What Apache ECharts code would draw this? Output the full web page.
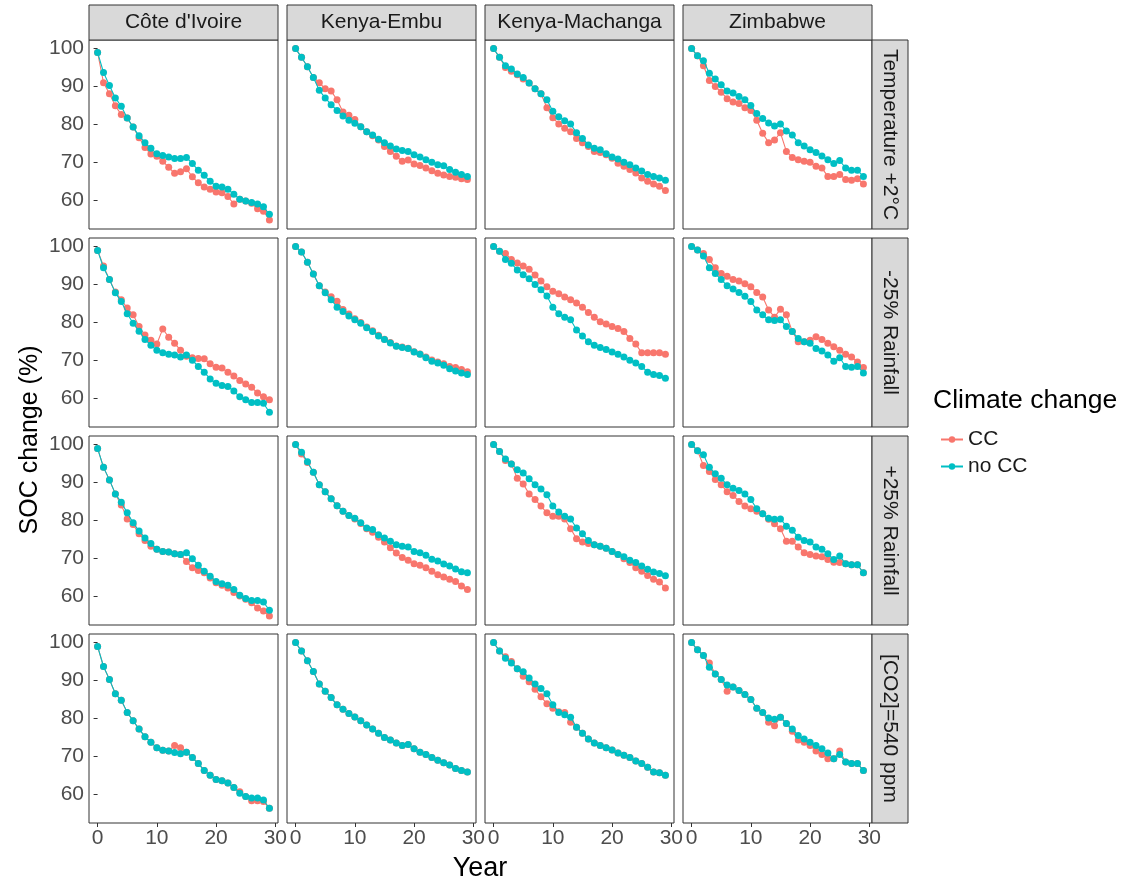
<!DOCTYPE html>
<html>
<head>
<meta charset="utf-8">
<script src="https://cdn.jsdelivr.net/npm/echarts@6/dist/echarts.min.js"></script>
<style>html,body{margin:0;padding:0;background:#fff;}#chart{width:1126px;height:886px;}</style>
</head>
<body>
<div id="chart"></div>
<script>
const years = [0,1,2,3,4,5,6,7,8,9,10,11,12,13,14,15,16,17,18,19,20,21,22,23,24,25,26,27,28,29];
const columns = ["Côte d'Ivoire", "Kenya-Embu", "Kenya-Machanga", "Zimbabwe"];
const rowsLabels = ["Temperature +2°C", "-25% Rainfall", "+25% Rainfall", "[CO2]=540 ppm"];
const seriesNames = ["CC", "no CC"];
const xTicks = [0, 10, 20, 30];
const yTicks = [60, 70, 80, 90, 100];

// Temperature +2°C
const civ_temp_cc   = [99,91,88.1,84.9,82.6,81.7,79.3,76.5,73.9,72.2,71.6,70.3,68.7,67.1,67.5,68.3,66.2,64.6,63.5,62.9,62.2,62,61,59,60.3,59.8,59.2,57.8,57.1,54.8];
const civ_temp_nocc = [99,93.7,90.3,87,84.8,81.7,79.3,77,75.2,73.7,72.3,71.8,71.4,71,71,71.3,69.7,67.9,66.6,65,63.7,63.5,62.9,61.6,60.3,59.8,59.4,59,58.3,56.3];
const emb_temp_cc   = [100,97.7,95.2,92.4,91,89.4,88.8,86.5,83.3,82.4,81.3,79.4,78.1,77,75.9,74.2,72.9,71.6,70.3,70.6,69.6,69.2,68.5,67.8,67.1,66.7,66.3,66.1,65.7,65.5];
const emb_temp_nocc = [100,97.7,95.2,92.4,89,87,85.2,83.7,82.2,81.1,80.3,79.4,78.1,77.2,76.1,75.2,74.3,73.5,73.1,72.9,72,71.4,70.7,70,69.4,69.1,68.1,67.4,66.8,66.3];
const mac_temp_cc   = [100,97.7,95,94,93.1,92,90.9,89.4,88.1,84.4,81.8,80.1,79,78.1,76.3,75.2,74.2,72.9,72.6,72,71.1,69.8,69,68.1,67.2,65.9,65,64.3,63.7,62.6];
const mac_temp_nocc = [100,97.7,95.5,94.6,93.3,92.4,90.9,89.4,88.1,86.5,83.5,82,81,80.1,77.8,76.3,74.6,73.7,73.3,72.3,71.4,70.9,70,69.4,68.5,67.7,66.8,66.3,65.9,65.3];
const zim_temp_cc   = [100,98.1,95.5,91.6,90,88.5,86.8,85.9,85.5,84.4,83.7,81.1,77.7,75.2,75.9,77.8,72.9,71.3,70.7,70.3,70,69,68.5,66.3,66.3,66.8,65.5,65.3,65.7,64.3];
const zim_temp_nocc = [100,98.1,96.8,93.5,92,90.5,88.8,88.3,87.4,86.5,85,82.9,81.6,80.4,79.6,80.1,78.3,77.2,75.2,74.3,73.3,72.6,71.7,70.7,69.7,70.5,68.5,67.9,67.9,66.3];

// -25% Rainfall
const civ_drain_cc   = [99,94.9,91.3,88,86,83.8,82,78.9,76.7,75.3,74.3,78.3,76.1,74.5,72.7,71.1,70.7,70.5,70.4,69.1,68.2,68,66.9,65.9,64.7,63.8,62.9,61.4,60.4,59.6];
const civ_drain_nocc = [99,94.4,91.3,87.8,85.5,82.3,79.8,77.7,75.5,74,72.7,72,71.6,71.4,70.9,71.4,70,68.4,66.9,65.1,64,63.4,63.1,61.9,60.4,59.6,58.9,58.9,58.7,56.3];
const emb_drain_cc   = [100,98.6,95.9,92.8,89.7,88,86.8,85.6,83.4,82.2,81,80,78.8,77.8,76.6,75.6,74.7,73.8,73.5,73.2,72.3,71.7,70.9,70.1,69.6,69.1,68.4,68.1,67.6,67];
const emb_drain_nocc = [100,98.6,95.9,92.8,89.7,87.8,86,84,82.9,81.7,80.7,79.8,78.6,77.6,76.4,75.5,74.6,73.7,73.4,73.1,72.2,71.6,70.7,69.8,69.3,68.7,67.8,67.2,66.7,66.3];
const mac_drain_cc   = [100,98.8,98.2,96.6,95.7,94.9,94,92.5,90.9,89.4,88.2,87.6,86.7,86,85.1,84,82.6,81.4,80.2,79.6,78.9,78.4,77.6,75.8,74.3,72,72,72,72,71.6];
const mac_drain_nocc = [100,98.8,96.6,95.6,93.8,92.6,91.5,90,88.6,87,84,82.3,81.4,80.7,78,76.4,74.9,74,73.4,72.9,72.2,71.6,70.9,70,69.3,68.4,66.9,66.3,66,65.3];
const zim_drain_cc   = [100,99.1,98.2,96.6,94.4,92.9,92.2,91.3,90.9,90.2,89.4,87.9,86.7,83.3,81.4,83.5,82,77.6,74.9,74.9,75.3,76.2,75.5,74.5,73.6,72.7,71.6,70.9,69.6,68.1];
const zim_drain_nocc = [100,99.1,97.5,94.4,92.9,91.3,89.7,88.8,87.9,86.9,85.5,83.3,82,80.7,80.5,80.7,78.9,77.6,75.8,74.9,74.5,73.1,72.5,71.4,69.8,70.7,68.4,68.2,68.4,66.7];

// +25% Rainfall
const civ_irain_cc   = [99,94,90.7,87,84.1,80.4,78.9,76.5,74.7,73.2,72.4,71.8,71.7,71.2,71,69.2,67.5,66.8,66.2,64.8,63.6,62.9,62.2,61,60.1,59.2,58.3,56.9,56.1,54.8];
const civ_irain_nocc = [99,94,90.7,87,84.8,82,79.4,77.2,75.4,73.9,72.4,71.8,71.7,71.2,71,71.5,69.9,68.2,66.6,65.3,63.9,63.3,62.9,61.8,60.3,59.4,58.9,58.9,58.5,56.3];
const emb_irain_cc   = [100,97.5,95.3,92.7,89.4,87.6,85.7,83.9,82.4,81.3,80.4,79.2,77.8,76.9,75.6,74.3,72.8,71.4,70.2,69.5,68.6,68.2,67.5,66.6,65.7,65.1,64.5,63.9,62.7,61.8];
const emb_irain_nocc = [100,98,95.5,92.7,89.4,87.6,85.7,83.9,82.4,81.3,80.6,79.4,78,77.6,76.2,75.4,74.5,73.6,73.2,73,71.8,71.5,70.8,69.8,69.3,68.5,68,67.2,66.5,66.2];
const mac_irain_cc   = [100,98.2,95.8,94.9,91.1,89.6,87,85.5,83.8,82,81.1,81.1,80.4,77.8,75.2,74.3,73.9,73.6,73.2,72.7,71.8,71,69.9,68.9,67.5,66.6,65.5,64.5,63.8,62.2];
const mac_irain_nocc = [100,98.2,96.2,94.9,93.4,92.5,91,89.4,88.3,86.8,83.8,82.2,81.1,80.4,78,76.5,74.7,73.6,73.2,72.7,71.8,71,70.4,69.5,68.9,68,67.1,66.4,66,65.4];
const zim_irain_cc   = [100,98.4,94.5,92.9,90.8,89.4,87.6,86.6,85,83.8,83.1,82.4,81.8,80.3,79.1,77.8,74.5,74.5,73,71.5,71,70.6,70.4,69.7,69,68.9,68.6,68.3,68.3,66.2];
const zim_irain_nocc = [100,98.4,97.3,94,92.3,91.1,89.4,88.5,87.9,87,85.5,83.1,81.8,80.6,80.3,80.4,78.5,77.4,75.6,74.7,74.3,73,72.4,71.2,69.7,70.6,68.6,68.3,68.3,66.2];

// [CO2]=540 ppm
const civ_co2_cc   = [99,93.7,90.3,86.5,84.8,81.6,79.4,77.2,75.2,73.7,72.3,71.6,71.4,72.9,72.3,71.1,69.7,68.1,66.3,65,63.9,63.6,63,61.8,60.7,59.4,58.3,58.3,58.1,56.3];
const civ_co2_nocc = [99,93.7,90.3,86.5,84.8,81.6,79.4,77.2,75.2,73.7,72.3,71.6,71.4,71,70.7,71.1,69.7,68.1,66.3,65,63.9,63.6,63,61.8,60.3,59.4,59,59,58.5,56.3];
const emb_co2_cc   = [100,97.8,95.2,92.4,89.1,87.2,85.5,83.6,82.4,81.3,80.4,79.4,78.3,77.2,76.1,75,74.3,73.5,72.9,73.1,72,71.1,70.5,69.7,69,68.3,67.7,66.8,66.3,65.9];
const emb_co2_nocc = [100,97.8,95.2,92.4,89.1,87.2,85.5,83.6,82.4,81.3,80.4,79.4,78.3,77.2,76.1,75,74.3,73.5,72.9,73.1,72,71.1,70.5,69.7,69,68.3,67.7,66.8,66.3,65.9];
const mac_co2_cc   = [100,97.8,96.3,95,93.1,91.1,89.7,87.7,85.7,83.9,82.7,81.8,81.6,79,77.7,76.1,74.6,73.5,72.9,72.3,71.7,70.9,70.3,69.7,68.8,68.1,67.1,65.9,65.7,65];
const mac_co2_nocc = [100,97.8,95.9,94.6,93.1,92.3,90.7,89.1,87.9,86.5,83.6,81.6,81,80.3,77.7,76.1,74.6,73.5,72.9,72.3,71.7,70.9,70.3,69.7,68.8,68.1,67.1,65.9,65.7,65];
const zim_co2_cc   = [100,98.1,96.6,94.6,91.7,90.3,87.2,88.3,87.4,86.3,85,82.7,81.6,79,78.1,80.3,78.7,76.6,74.3,73.7,72.9,71.4,70.5,69.4,69.4,71.4,68.5,68.1,68.1,66.3];
const zim_co2_nocc = [100,98.1,96.6,93.5,91.7,90.3,88.8,88.3,87.4,86.3,85,82.7,81.6,80.1,79.8,80.3,78.7,77.2,75.5,74.6,73.7,72.9,72,70.9,69.4,70.5,68.5,68.1,68.1,66.3];

const panelTable = [
  [[civ_temp_cc, civ_temp_nocc], [emb_temp_cc, emb_temp_nocc], [mac_temp_cc, mac_temp_nocc], [zim_temp_cc, zim_temp_nocc]],
  [[civ_drain_cc, civ_drain_nocc], [emb_drain_cc, emb_drain_nocc], [mac_drain_cc, mac_drain_nocc], [zim_drain_cc, zim_drain_nocc]],
  [[civ_irain_cc, civ_irain_nocc], [emb_irain_cc, emb_irain_nocc], [mac_irain_cc, mac_irain_nocc], [zim_irain_cc, zim_irain_nocc]],
  [[civ_co2_cc, civ_co2_nocc], [emb_co2_cc, emb_co2_nocc], [mac_co2_cc, mac_co2_nocc], [zim_co2_cc, zim_co2_nocc]]
];

const FONT = '"Liberation Sans", Arial, sans-serif';
const colors = ['#F8766D', '#00BFC4'];
const L0 = 89, T0 = 40, W = 189, H = 189, STEP = 198;
const STRIP_H = 35, STRIP_W = 36;

const grids = [], xAxes = [], yAxes = [], series = [], graphics = [];
for (let r = 0; r < 4; r++) {
  for (let c = 0; c < 4; c++) {
    const idx = r * 4 + c;
    const left = L0 + c * STEP, top = T0 + r * STEP;
    grids.push({left: left, top: top, width: W, height: H, show: true,
      borderColor: '#333333', borderWidth: 1, backgroundColor: '#ffffff', containLabel: false});
    const bottomRow = r === 3, leftCol = c === 0;
    xAxes.push({gridIndex: idx, type: 'value', min: -1.45, max: 30.45,
      axisLine: {show: false}, splitLine: {show: false},
      axisTick: {show: bottomRow, customValues: xTicks, length: 4, lineStyle: {color: '#333333'}},
      axisLabel: {show: bottomRow, customValues: xTicks, fontSize: 21, color: '#4D4D4D', fontFamily: FONT, margin: 5}});
    yAxes.push({gridIndex: idx, type: 'value', min: 52.43, max: 102.27,
      axisLine: {show: false}, splitLine: {show: false},
      axisTick: {show: leftCol, customValues: yTicks, length: 4, lineStyle: {color: '#333333'}},
      axisLabel: {show: leftCol, customValues: yTicks, fontSize: 21, color: '#4D4D4D', fontFamily: FONT, margin: 5}});
    for (let s = 0; s < 2; s++) {
      const vals = panelTable[r][c][s];
      series.push({name: seriesNames[s], type: 'line', xAxisIndex: idx, yAxisIndex: idx,
        data: years.map((y, i) => [y, vals[i]]),
        symbol: 'circle', symbolSize: 7, showSymbol: true, showAllSymbol: true,
        itemStyle: {color: colors[s]}, lineStyle: {color: colors[s], width: 1.1},
        z: 2 + s, silent: true, animation: false});
    }
    if (r === 0) {
      graphics.push({type: 'rect', shape: {x: left, y: T0 - STRIP_H, width: W, height: STRIP_H},
        style: {fill: '#D9D9D9', stroke: '#333333', lineWidth: 1}});
      graphics.push({type: 'text', x: left + W / 2, y: T0 - STRIP_H / 2,
        style: {text: columns[c], fontSize: 21, fontFamily: FONT, fill: '#1A1A1A', align: 'center', verticalAlign: 'middle'}});
    }
    if (c === 3) {
      graphics.push({type: 'rect', shape: {x: left + W, y: top, width: STRIP_W, height: H},
        style: {fill: '#D9D9D9', stroke: '#333333', lineWidth: 1}});
      graphics.push({type: 'text', x: left + W + STRIP_W / 2, y: top + H / 2, rotation: -Math.PI / 2,
        style: {text: rowsLabels[r], fontSize: 21, fontFamily: FONT, fill: '#1A1A1A', align: 'center', verticalAlign: 'middle'}});
    }
  }
}

graphics.push({type: 'text', x: 30, y: 440, rotation: Math.PI / 2,
  style: {text: 'SOC change (%)', fontSize: 25, fontFamily: FONT, fill: '#000000', align: 'center', verticalAlign: 'middle'}});
graphics.push({type: 'text', x: 480, y: 869,
  style: {text: 'Year', fontSize: 27, fontFamily: FONT, fill: '#000000', align: 'center', verticalAlign: 'middle'}});
graphics.push({type: 'text', x: 933, y: 401,
  style: {text: 'Climate change', fontSize: 26.5, fontFamily: FONT, fill: '#000000', align: 'left', verticalAlign: 'middle'}});

const chart = echarts.init(document.getElementById('chart'), null, {renderer: 'canvas'});
chart.setOption({
  animation: false,
  backgroundColor: '#ffffff',
  grid: grids, xAxis: xAxes, yAxis: yAxes, series: series,
  legend: {data: seriesNames, orient: 'vertical', left: 935, top: 424, itemWidth: 22, itemHeight: 8, itemGap: 6,
    textStyle: {fontSize: 21, fontFamily: FONT, color: '#1A1A1A'}, selectedMode: false},
  graphic: {elements: graphics}
});
</script>
</body>
</html>
